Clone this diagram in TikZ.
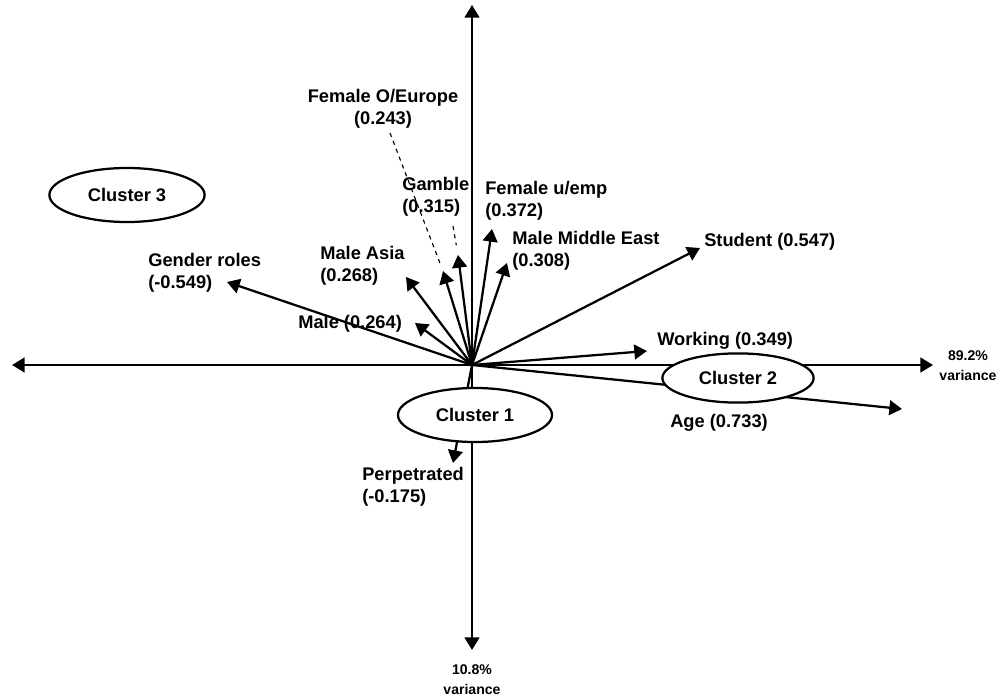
\documentclass[tikz,border=0pt]{standalone}
\usepackage{fontspec}
\setmainfont{Liberation Sans}
\usetikzlibrary{arrows.meta,shapes.geometric}

\begin{document}
\begin{tikzpicture}[x=0.025cm,y=-0.025cm,
  vec/.style={line width=1.6pt,-{Triangle[length=9pt,width=10.5pt]}},
  lbl/.style={font=\bfseries\fontsize{13}{15.6}\selectfont,align=left,anchor=west,inner sep=0pt},
  axlbl/.style={font=\bfseries\fontsize{10}{14}\selectfont,align=center,inner sep=0pt},
  clus/.style={ellipse,draw,line width=1.6pt,fill=white,font=\bfseries\fontsize{13}{15.6}\selectfont,inner sep=0pt}]
\useasboundingbox (0,0) rectangle (1002,696);

% axes
\coordinate (o) at (472,365);
\coordinate (top) at (472,5);
\coordinate (bot) at (472,650);
\coordinate (lft) at (12,365);
\coordinate (rgt) at (933,365);
\foreach \e in {top,bot,lft,rgt}
  \draw[vec] (o) -- (\e);
\node[axlbl] (xvar) at (968,366) {89.2\%\\variance};
\node[axlbl] (yvar) at (472,680) {10.8\%\\variance};

% loadings
\foreach \n/\x/\y in {gen/227/282, male/415/323, asia/406/277, foe/443/271,
    gam/458/255, femu/492/229, mme/507/263, stu/700/248, work/647/351,
    age/902/409, perp/453/463}{
  \coordinate (t\n) at (\x,\y);
  \draw[vec] (o) -- (t\n);
}

\node[lbl] (lgen) at (148,273) {Gender roles\\(-0.549)};
\node[lbl] (lmale) at (298,324) {Male (0.264)};
\node[lbl] (lasia) at (320,266) {Male Asia\\(0.268)};
\node[lbl,align=center,anchor=center] (lfoe) at (383,109) {Female O/Europe\\(0.243)};
\node[lbl] (lgam) at (402,197) {Gamble\\(0.315)};
\node[lbl] (lfemu) at (485,201) {Female u/emp\\(0.372)};
\node[lbl] (lmme) at (512,251) {Male Middle East\\(0.308)};
\node[lbl] (lstu) at (704,242) {Student (0.547)};
\node[lbl] (lwork) at (657,341) {Working (0.349)};
\node[lbl] (lage) at (670,423) {Age (0.733)};
\node[lbl] (lperp) at (362,487) {Perpetrated\\(-0.175)};

% dashed links
\coordinate (dfoe) at (390,133);
\coordinate (dgam) at (453,226);
\draw[dashed,thick,shorten >=4pt] (dfoe) -- (tfoe);
\draw[dashed,thick,shorten >=7pt] (dgam) -- (tgam);

% clusters
\node[clus,minimum width=3.85cm,minimum height=1.35cm] (c1) at (475,415) {Cluster 1};
\node[clus,minimum width=3.78cm,minimum height=1.23cm] (c2) at (738,378) {Cluster 2};
\node[clus,minimum width=3.88cm,minimum height=1.35cm] (c3) at (127,195) {Cluster 3};
\end{tikzpicture}
\end{document}
